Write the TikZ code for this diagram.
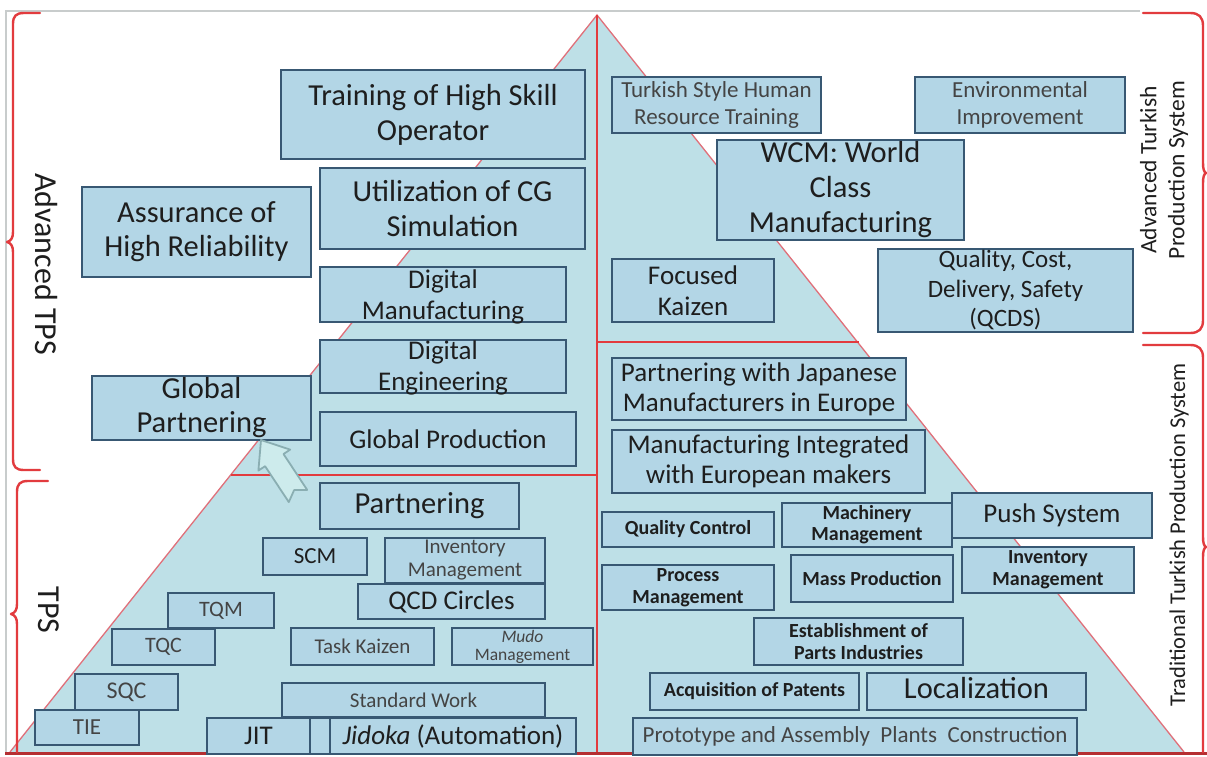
\documentclass[tikz,border=0pt]{standalone}
\usepackage{fontspec}
\setmainfont{Carlito}
\definecolor{boxfill}{HTML}{B3D6E6}
\definecolor{trifill}{HTML}{BEE0E7}
\definecolor{boxline}{HTML}{385873}
\definecolor{redl}{HTML}{E23B3E}
\definecolor{rededge}{HTML}{E0707A}
\definecolor{txtc}{HTML}{1E1E1E}
\definecolor{txtl}{HTML}{444444}
\definecolor{arrline}{HTML}{8AAEB2}
\definecolor{arrfill}{HTML}{CDEBEC}
\definecolor{framegray}{HTML}{C8CCCC}
\newcommand\fs[2]{\fontsize{#1}{#2}\selectfont}
\newcommand\Bx[7]{%
  \pgfmathsetmacro\bw{#4-#2}\pgfmathsetmacro\bh{#5-#3}%
  \pgfmathsetmacro\bcx{(#2+#4)/2}\pgfmathsetmacro\bcy{(#3+#5)/2}%
  \node[bx, minimum width=\bw pt, minimum height=\bh pt] (#1) at (\bcx,\bcy) {};
  \node[tx,#6] (#1t) at (#1.center) {#7};}
\begin{document}
\begin{tikzpicture}[x=1pt,y=-1pt,
  bx/.style={draw=boxline, fill=boxfill, line width=2.9pt, inner sep=0pt},
  tx/.style={inner sep=0pt, align=center, text=txtc},
  lt/.style={text=txtl},
  redline/.style={draw=redl, line width=2.8pt},
  brace/.style={draw=redl, line width=2.4pt, line cap=round, line join=round},
]
\useasboundingbox (0,0) rectangle (1207,757);
\fill[white] (0,0) rectangle (1207,757);

% triangle
\coordinate (apex) at (597,15);
\coordinate (bl) at (10,752);
\coordinate (br) at (1184,752);
\fill[trifill] (apex) -- (bl) -- (br) -- cycle;
\draw[rededge, line width=1.3pt] (bl) -- (apex) -- (br);

% frame
\draw[framegray, line width=1.8pt] (6,752) -- (6,11) -- (1140,11);
\draw[redline] (apex) -- (597,752);
\draw[draw=redl!80!black, line width=3pt] (5,753) -- (1207,753);
\draw[redline] (231,475) -- (597,475);
\draw[redline] (597,342) -- (859,342);

% braces
\draw[brace] (40,13) -- (24,13) .. controls (16,13) and (13,16) .. (13,24) -- (13,232)
  .. controls (13,238) and (11,241) .. (7,242) .. controls (11,243) and (13,246) .. (13,252)
  -- (13,459) .. controls (13,467) and (16,470) .. (24,470) -- (40,470);
\draw[brace] (48,481) -- (28,481) .. controls (20,481) and (17,484) .. (17,492) -- (17,604)
  .. controls (17,610) and (15,613) .. (11,614) .. controls (15,615) and (17,618) .. (17,624)
  -- (17,752);
\draw[brace] (1143,13) -- (1190,13) .. controls (1199,13) and (1203,17) .. (1203,26) -- (1203,163)
  .. controls (1203,169) and (1204,172) .. (1206,173) .. controls (1204,174) and (1203,177) .. (1203,183)
  -- (1203,320) .. controls (1203,329) and (1199,333) .. (1190,333) -- (1143,333);
\draw[brace] (1143,345) -- (1190,345) .. controls (1199,345) and (1203,349) .. (1203,358) -- (1203,537)
  .. controls (1203,543) and (1204,546) .. (1206,547) .. controls (1204,548) and (1203,551) .. (1203,557)
  -- (1203,752);

% side labels
\node[tx, rotate=-90, font=\fs{32}{36}] (advtps) at (46,264) {Advanced TPS};
\node[tx, rotate=-90, font=\fs{32}{36}] (tps) at (49,610) {TPS};
\node[tx, rotate=90, font=\fs{23.5}{28}] (atps) at (1164,170) {Advanced Turkish\\Production System};
\node[tx, rotate=90, font=\fs{22.5}{26}] (ttps) at (1179,535) {Traditional Turkish Production System};

% left boxes
\Bx{tr}{281}{70}{585}{159}{font=\fs{30.5}{35}}{Training of High Skill\\Operator}
\Bx{ut}{320}{168}{585}{249}{font=\fs{30.5}{35}}{Utilization of CG\\Simulation}
\Bx{as}{82}{187}{311}{277}{font=\fs{30.5}{34}}{Assurance of\\High Reliability}
\Bx{dm}{320}{267}{566}{322}{yshift=-2pt,font=\fs{27}{31}}{Digital\\Manufacturing}
\Bx{de}{320}{340}{566}{393}{yshift=-1pt,font=\fs{27}{31}}{Digital\\Engineering}
\Bx{gp}{92}{376}{311}{440}{font=\fs{30.5}{34}}{Global\\Partnering}
\Bx{gpr}{320}{412}{576}{466}{font=\fs{27}{31}}{Global Production}
\Bx{pa}{320}{483}{519}{529}{font=\fs{30.5}{34}}{Partnering}
\Bx{scm}{263}{538}{367}{575}{font=\fs{23}{26}}{SCM}
\Bx{invl}{385}{538}{545}{583}{lt,font=\fs{21}{23}}{Inventory\\Management}
\Bx{qcd}{358}{584}{545}{619}{font=\fs{27}{30}}{QCD Circles}
\Bx{tqm}{168}{593}{274}{628}{lt,font=\fs{22}{24}}{TQM}
\Bx{tqc}{112}{629}{215}{665}{lt,font=\fs{22}{24}}{TQC}
\Bx{tk}{291}{628}{434}{665}{lt,font=\fs{21}{24}}{Task Kaizen}
\Bx{mudo}{452}{628}{593}{665}{lt,font=\fs{17.5}{18}}{\textit{Mudo}\\Management}
\Bx{sqc}{75}{674}{178}{710}{lt,font=\fs{24}{26}}{SQC}
\Bx{tie}{35}{710}{139}{745}{lt,font=\fs{23}{26}}{TIE}
\Bx{sw}{282}{683}{545}{717}{lt,font=\fs{21}{24}}{Standard Work}
\Bx{jit}{207}{718}{310}{754}{font=\fs{27}{30}}{JIT}
\Bx{nar}{310}{718}{330}{754}{}{}
\Bx{jid}{330}{718}{576}{754}{font=\fs{27}{30}}{\textit{Jidoka} (Automation)}

% arrow
\draw[arrline, fill=arrfill, line width=1.8pt, line join=round]
  (307.2,489.9) -- (294.1,490.1) -- (288.8,502.1) -- (265.1,466.2) -- (258.4,470.6)
  -- (261,440) -- (290.2,449.6) -- (283.5,454) -- cycle;

% right boxes
\Bx{tsh}{612}{77}{821}{133}{lt,font=\fs{23}{27}}{Turkish Style Human\\Resource Training}
\Bx{env}{915}{77}{1125}{133}{lt,font=\fs{23}{27}}{Environmental\\Improvement}
\Bx{wcm}{717}{140}{964}{240}{font=\fs{30.5}{35}}{WCM: World\\Class\\Manufacturing}
\Bx{fk}{612}{259}{774}{322}{font=\fs{27}{31}}{Focused\\Kaizen}
\Bx{qcds}{878}{249}{1133}{332}{font=\fs{25}{29.5}}{Quality, Cost,\\Delivery, Safety\\(QCDS)}
\Bx{pj}{612}{358}{906}{420}{font=\fs{27}{30}}{Partnering with Japanese\\Manufacturers in Europe}
\Bx{mi}{612}{430}{925}{493}{font=\fs{27}{30}}{Manufacturing Integrated\\with European makers}
\Bx{qc}{602}{512}{774}{547}{font=\fs{20}{22}\bfseries}{Quality Control}
\Bx{mm}{782}{503}{952}{547}{font=\fs{20}{21}\bfseries}{Machinery\\Management}
\Bx{ps}{952}{493}{1152}{538}{font=\fs{27}{30}}{Push System}
\Bx{pm}{602}{565}{774}{610}{font=\fs{20}{22}\bfseries}{Process\\Management}
\Bx{mp}{791}{555}{953}{602}{font=\fs{20}{22}\bfseries}{Mass Production}
\Bx{invr}{962}{547}{1134}{593}{font=\fs{20}{22}\bfseries}{Inventory\\Management}
\Bx{est}{754}{618}{963}{665}{font=\fs{20}{22}\bfseries}{Establishment of\\Parts Industries}
\Bx{acq}{650}{673}{859}{710}{font=\fs{20}{22}\bfseries}{Acquisition of Patents}
\Bx{loc}{867}{673}{1086}{710}{yshift=3pt,font=\fs{30.5}{34}}{Localization}
\Bx{pro}{633}{718}{1077}{755}{lt,font=\fs{23}{26}}{Prototype and Assembly\ \ Plants\ \ Construction}
\end{tikzpicture}
\end{document}
